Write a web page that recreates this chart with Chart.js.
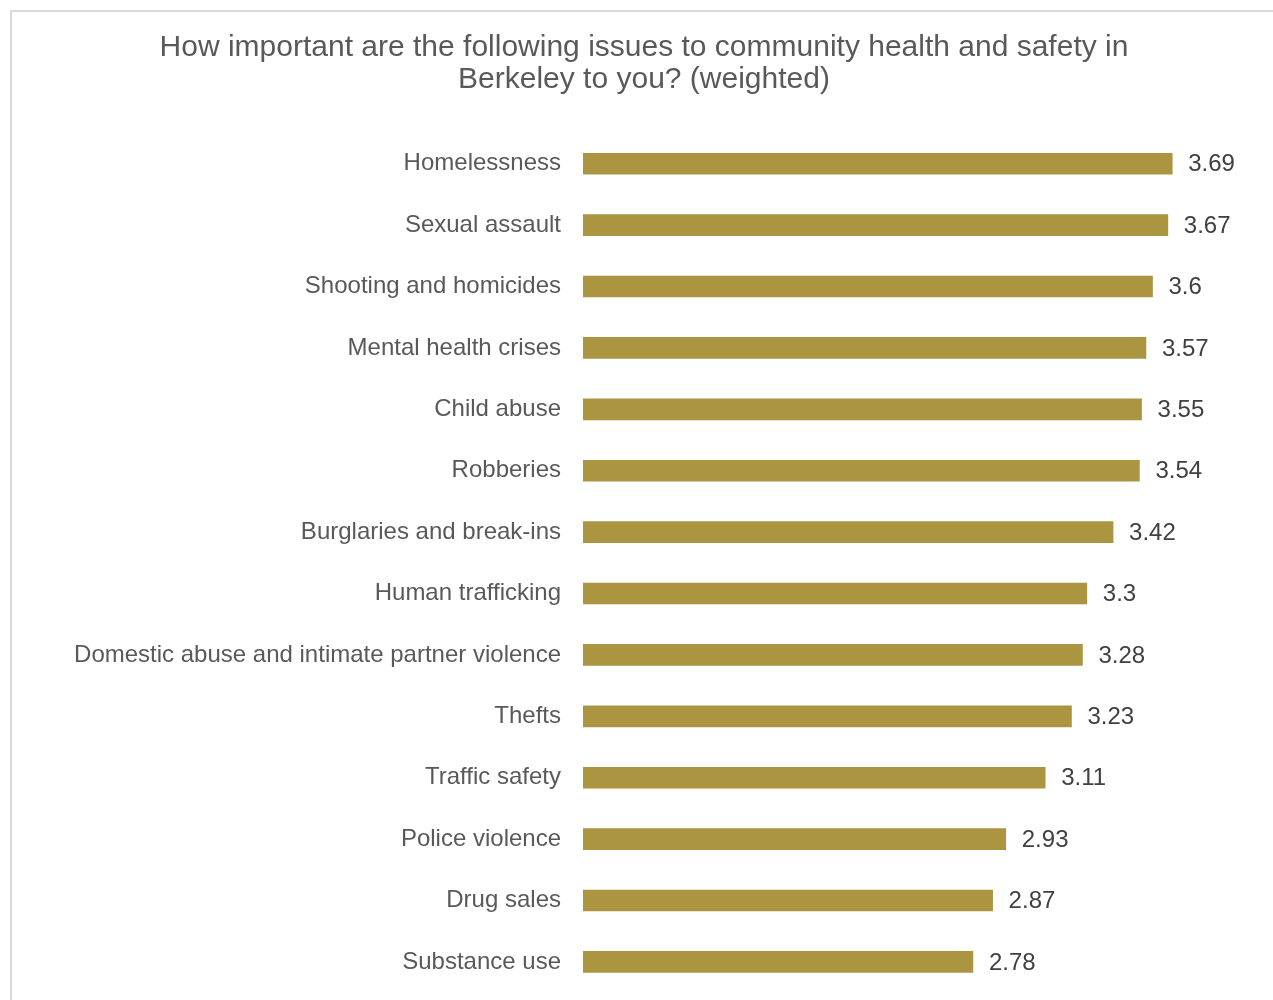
<!DOCTYPE html>
<html>
<head>
<meta charset="utf-8">
<script src="https://cdn.jsdelivr.net/npm/chart.js@4.4.1/dist/chart.umd.min.js"></script>
<style>
  html, body { margin: 0; padding: 0; background: #ffffff; overflow: hidden; }
  #frame { position: absolute; left: 10px; top: 10px; width: 1400px; height: 1200px; border: 2px solid #d9d9d9; box-sizing: border-box; }
  #wrap { position: absolute; left: 0; top: 0; width: 1273px; height: 1000px; overflow: hidden; }
</style>
</head>
<body>
<div id="frame"></div>
<div id="wrap"><canvas id="c" width="1273" height="1021"></canvas></div>
<script>
const titleLines = ["How important are the following issues to community health and safety in", "Berkeley to you? (weighted)"];
const categories = [
  "Homelessness",
  "Sexual assault",
  "Shooting and homicides",
  "Mental health crises",
  "Child abuse",
  "Robberies",
  "Burglaries and break-ins",
  "Human trafficking",
  "Domestic abuse and intimate partner violence",
  "Thefts",
  "Traffic safety",
  "Police violence",
  "Drug sales",
  "Substance use"
];
const values = [3.69, 3.67, 3.6, 3.57, 3.55, 3.54, 3.42, 3.3, 3.28, 3.23, 3.11, 2.93, 2.87, 2.78];
const valueLabels = ["3.69", "3.67", "3.6", "3.57", "3.55", "3.54", "3.42", "3.3", "3.28", "3.23", "3.11", "2.93", "2.87", "2.78"];

const valueLabelPlugin = {
  id: 'valueLabels',
  afterDatasetsDraw(chart) {
    const ctx = chart.ctx;
    const meta = chart.getDatasetMeta(0);
    ctx.save();
    ctx.font = '24px "Liberation Sans", Arial, sans-serif';
    ctx.fillStyle = '#404040';
    ctx.textAlign = 'left';
    ctx.textBaseline = 'middle';
    meta.data.forEach((bar, i) => {
      ctx.fillText(valueLabels[i], bar.x + 16, bar.y + 1);
    });
    ctx.restore();
  }
};

new Chart(document.getElementById('c'), {
  type: 'bar',
  data: {
    labels: categories,
    datasets: [{
      data: values,
      backgroundColor: '#ac9540',
      borderWidth: 0,
      barThickness: 21
    }]
  },
  options: {
    indexAxis: 'y',
    responsive: false,
    animation: false,
    layout: { padding: { left: 15, right: 0, top: 0, bottom: 7 } },
    plugins: {
      legend: { display: false },
      tooltip: { enabled: false },
      title: {
        display: true,
        text: titleLines,
        color: '#595959',
        font: { family: '"Liberation Sans", Arial, sans-serif', size: 30, weight: 'normal', lineHeight: 1.067 },
        padding: { top: 32, bottom: 37 }
      }
    },
    scales: {
      x: {
        display: false,
        min: 1,
        max: 4.15
      },
      y: {
        grid: { display: false },
        border: { display: false },
        ticks: {
          color: '#595959',
          padding: 14,
          font: { family: '"Liberation Sans", Arial, sans-serif', size: 24 }
        },
        afterFit(scale) { scale.width = 568; }
      }
    }
  },
  plugins: [valueLabelPlugin]
});
</script>
</body>
</html>
